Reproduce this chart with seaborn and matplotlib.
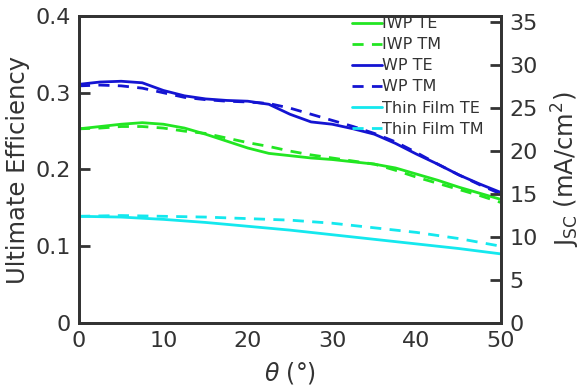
import numpy as np
import pandas as pd
import matplotlib
matplotlib.use("Agg")
import matplotlib.pyplot as plt
import seaborn as sns

sns.set_theme(style="white")
plt.rcParams['font.family'] = ['DejaVu Sans']
plt.rcParams['mathtext.fontset'] = 'dejavusans'

theta = [0, 2.5, 5, 7.5, 10, 12.5, 15, 17.5, 20, 22.5, 25, 27.5, 30, 32.5, 35, 37.5, 40, 42.5, 45, 47.5, 50]
iwp_te = [0.253, 0.256, 0.259, 0.261, 0.259, 0.254, 0.246, 0.237, 0.228, 0.221, 0.218, 0.215, 0.213, 0.210, 0.207, 0.202, 0.194, 0.186, 0.177, 0.169, 0.161]
iwp_tm = [0.253, 0.254, 0.256, 0.256, 0.254, 0.250, 0.247, 0.241, 0.235, 0.230, 0.224, 0.219, 0.215, 0.211, 0.207, 0.199, 0.190, 0.182, 0.174, 0.166, 0.157]
wp_te = [0.311, 0.314, 0.315, 0.313, 0.303, 0.296, 0.292, 0.290, 0.289, 0.285, 0.272, 0.262, 0.259, 0.253, 0.246, 0.234, 0.220, 0.207, 0.193, 0.181, 0.170]
wp_tm = [0.309, 0.310, 0.309, 0.306, 0.300, 0.294, 0.291, 0.289, 0.288, 0.286, 0.280, 0.272, 0.264, 0.256, 0.247, 0.236, 0.222, 0.207, 0.193, 0.180, 0.168]
theta_tf = [0, 5, 10, 15, 20, 25, 30, 35, 40, 45, 50]
tf_te = [0.139, 0.138, 0.135, 0.131, 0.126, 0.121, 0.115, 0.109, 0.103, 0.097, 0.090]
tf_tm = [0.139, 0.140, 0.139, 0.138, 0.136, 0.134, 0.130, 0.124, 0.118, 0.110, 0.100]

labels = ["IWP TE", "IWP TM", "WP TE", "WP TM", "Thin Film TE", "Thin Film TM"]
xticks = [0, 10, 20, 30, 40, 50]
yticks_left = [0, 0.1, 0.2, 0.3, 0.4]
yticklabels_left = ["0", "0.1", "0.2", "0.3", "0.4"]
yticks_right = [0, 5, 10, 15, 20, 25, 30, 35]

series = [
    (theta, iwp_te, "#22e622", "-"),
    (theta, iwp_tm, "#22e622", "--"),
    (theta, wp_te, "#1414d2", "-"),
    (theta, wp_tm, "#1414d2", "--"),
    (theta_tf, tf_te, "#14e8ee", "-"),
    (theta_tf, tf_tm, "#14e8ee", "--"),
]

fig = plt.figure(figsize=(5.82, 3.91), dpi=100)
ax = fig.add_axes([0.1357, 0.174, 0.7251, 0.785])
txt = "#333333"

for (x, y, c, ls), lab in zip(series, labels):
    sns.lineplot(x=x, y=y, ax=ax, color=c, label=lab, linewidth=2)
    l = ax.get_lines()[-1]
    if ls == "--":
        l.set_dashes((4, 3))

ax.set_xlim(0, 50)
ax.set_ylim(0, 0.4)
ax.set_xticks(xticks)
ax.set_yticks(yticks_left)
ax.set_yticklabels(yticklabels_left)
ax.set_xlabel(r"$\theta$ (°)", fontsize=17, color=txt, labelpad=6)
ax.set_ylabel("Ultimate Efficiency", fontsize=17.5, color=txt, labelpad=4)
ax.tick_params(direction="in", length=8, width=2, colors=txt, labelsize=16, pad=6)
for s in ax.spines.values():
    s.set_color(txt)
    s.set_linewidth(2)

ax2 = ax.twinx()
ax2.set_ylim(0, 35.7)
ax2.set_yticks(yticks_right)
ax2.set_ylabel(r"J$_{\rm SC}$ (mA/cm$^2$)", fontsize=17.5, color=txt, labelpad=9)
ax2.tick_params(direction="in", length=8, width=2, colors=txt, labelsize=16, pad=6)
for s in ax2.spines.values():
    s.set_color(txt)
    s.set_linewidth(2)
ax2.grid(False)

leg = ax.legend(loc="upper right", bbox_to_anchor=(0.975, 1.02), frameon=False,
                fontsize=11.5, handlelength=1.9, handletextpad=0.0,
                labelspacing=0.38, borderaxespad=0.0)
for t in leg.get_texts():
    t.set_color(txt)

fig.savefig("out.png", dpi=100)
